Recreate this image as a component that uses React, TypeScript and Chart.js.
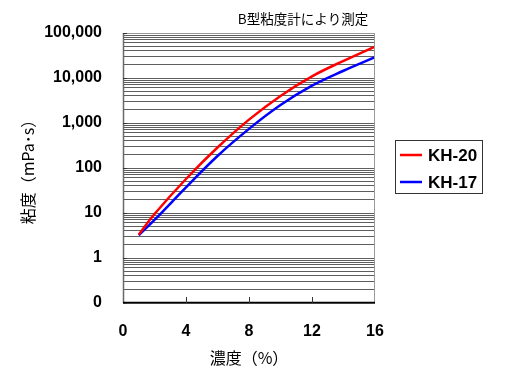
import React, { useEffect, useRef } from 'react';
import { Chart, registerables } from 'chart.js';

Chart.register(...registerables);

// ---- data ----
const concentration = [1, 2, 4, 6, 8, 10, 12, 14, 16];
const kh20 = [3.3, 9.5, 57, 285, 1190, 4000, 10900, 24000, 50000];
const kh17 = [3.2, 7, 37, 185, 740, 2500, 6750, 14500, 29000];
const seriesLabels = ['KH-20', 'KH-17'];
const seriesColors = ['#ff0000', '#0000ff'];

const xTickValues = [0, 4, 8, 12, 16];
const yDecades = [0.1, 1, 10, 100, 1000, 10000, 100000];
const yDecadeLabels = ['0', '1', '10', '100', '1,000', '10,000', '100,000'];
const yMultipliers = [1, 2, 3, 4, 5, 6, 7, 8, 9];

const chartTitle = 'B型粘度計により測定';
const xTitle = '濃度（%）';
const yTitle = '粘度（mPa･s）';

const numFont = "'Liberation Sans', Arial, sans-serif";
const jpFont = "'Noto Sans CJK JP', sans-serif";

function buildYTickValues(): number[] {
  const vals: number[] = [];
  for (let i = 0; i < yDecades.length - 1; i++) {
    for (const m of yMultipliers) vals.push(Number((yDecades[i] * m).toPrecision(6)));
  }
  vals.push(yDecades[yDecades.length - 1]);
  return vals;
}

const decorPlugin = {
  id: 'decor',
  afterDraw(chart: any) {
    const { ctx, chartArea } = chart;
    const { left, right, top, bottom } = chartArea;
    const xs = chart.scales.x;
    const ys = chart.scales.y;
    ctx.save();
    // frame
    ctx.lineWidth = 1;
    ctx.strokeStyle = '#999999';
    ctx.beginPath();
    ctx.moveTo(left, top + 0.5);
    ctx.lineTo(right, top + 0.5);
    ctx.moveTo(right - 0.5, top);
    ctx.lineTo(right - 0.5, bottom);
    ctx.stroke();
    ctx.lineWidth = 1.5;
    ctx.strokeStyle = '#6a6a6a';
    ctx.beginPath();
    ctx.moveTo(left + 0.5, top);
    ctx.lineTo(left + 0.5, bottom);
    ctx.stroke();
    ctx.strokeStyle = '#000000';
    ctx.beginPath();
    ctx.moveTo(left, bottom - 0.5);
    ctx.lineTo(right, bottom - 0.5);
    ctx.stroke();
    // inner x tick marks
    ctx.lineWidth = 1;
    ctx.strokeStyle = '#333333';
    ctx.beginPath();
    for (const v of xTickValues.slice(1, -1)) {
      const px = Math.round(xs.getPixelForValue(v)) + 0.5;
      ctx.moveTo(px, bottom);
      ctx.lineTo(px, bottom - 6);
    }
    // inner y tick marks
    for (const v of yDecades) {
      const py = Math.round(ys.getPixelForValue(v)) + 0.5;
      ctx.moveTo(left, py);
      ctx.lineTo(left + 4, py);
    }
    ctx.stroke();

    // header text
    ctx.fillStyle = '#000';
    ctx.font = `13.5px ${jpFont}`;
    ctx.textAlign = 'center';
    ctx.textBaseline = 'middle';
    ctx.fillText(chartTitle, 303, 18.5);

    // legend
    const lx = 395, ly = 140, lw = 87, lh = 53;
    ctx.lineWidth = 1;
    ctx.strokeStyle = '#333';
    ctx.strokeRect(lx + 0.5, ly + 0.5, lw, lh);
    chart.data.datasets.forEach((ds: any, i: number) => {
      const cy = ly + 15 + i * 27;
      ctx.strokeStyle = ds.borderColor;
      ctx.lineWidth = 2.5;
      ctx.beginPath();
      ctx.moveTo(lx + 5, cy);
      ctx.lineTo(lx + 27, cy);
      ctx.stroke();
      ctx.fillStyle = '#000';
      ctx.font = `bold 17px ${numFont}`;
      ctx.textAlign = 'left';
      ctx.textBaseline = 'middle';
      ctx.fillText(ds.label, lx + 33, cy + 1);
    });
    ctx.restore();
  },
};

export default function App() {
  const ref = useRef<HTMLCanvasElement>(null);
  useEffect(() => {
    if (!ref.current) return;
    const yTickValues = buildYTickValues();
    const chart = new Chart(ref.current, {
      type: 'line',
      data: {
        datasets: [
          {
            label: seriesLabels[0],
            data: concentration.map((x, i) => ({ x, y: kh20[i] })),
            borderColor: seriesColors[0],
            backgroundColor: seriesColors[0],
            borderWidth: 2.5,
            pointRadius: 0,
            tension: 0.4,
            fill: false,
          },
          {
            label: seriesLabels[1],
            data: concentration.map((x, i) => ({ x, y: kh17[i] })),
            borderColor: seriesColors[1],
            backgroundColor: seriesColors[1],
            borderWidth: 2.5,
            pointRadius: 0,
            tension: 0.4,
            fill: false,
          },
        ],
      },
      options: {
        responsive: false,
        animation: false,
        layout: { padding: { left: 0, right: 137, top: 33, bottom: 0 } },
        plugins: {
          legend: { display: false },
          tooltip: { enabled: false },
          title: { display: false },
        },
        scales: {
          x: {
            type: 'linear',
            min: 0,
            max: 16,
            afterBuildTicks: (s: any) => {
              s.ticks = xTickValues.map((v) => ({ value: v }));
            },
            afterFit: (s: any) => {
              s.height = 74;
            },
            grid: { display: true, drawOnChartArea: false, drawTicks: false },
            border: { display: false },
            ticks: {
              padding: 19,
              autoSkip: false,
              maxRotation: 0,
              color: '#000',
              font: { family: numFont, size: 16, weight: 'bold' },
              callback: (v: any) => String(v),
            },
            title: {
              display: true,
              text: xTitle,
              color: '#000',
              font: { family: jpFont, size: 16 },
              padding: { top: 0, bottom: 9 },
            },
          },
          y: {
            type: 'logarithmic',
            min: 0.1,
            max: 100000,
            afterBuildTicks: (s: any) => {
              s.ticks = yTickValues.map((v) => ({ value: v, major: yDecades.includes(v) }));
            },
            afterFit: (s: any) => {
              s.width = 123;
            },
            grid: { color: '#5e5e5e', lineWidth: 1, drawTicks: false },
            border: { display: false },
            ticks: {
              padding: 21,
              autoSkip: false,
              color: '#000',
              font: { family: numFont, size: 16, weight: 'bold' },
              callback: (v: any) => {
                const idx = yDecades.indexOf(Number(v));
                return idx >= 0 ? yDecadeLabels[idx] : '';
              },
            },
            title: {
              display: true,
              text: yTitle,
              color: '#000',
              font: { family: jpFont, size: 16 },
              padding: { top: 18, bottom: 0 },
            },
          },
        },
      } as any,
      plugins: [decorPlugin],
    });
    return () => chart.destroy();
  }, []);
  return (
    <div style={{ position: 'fixed', left: 0, top: 0, width: 512, height: 377, background: '#fff' }}>
      <canvas ref={ref} width={512} height={377} style={{ width: 512, height: 377, display: 'block' }} />
    </div>
  );
}
